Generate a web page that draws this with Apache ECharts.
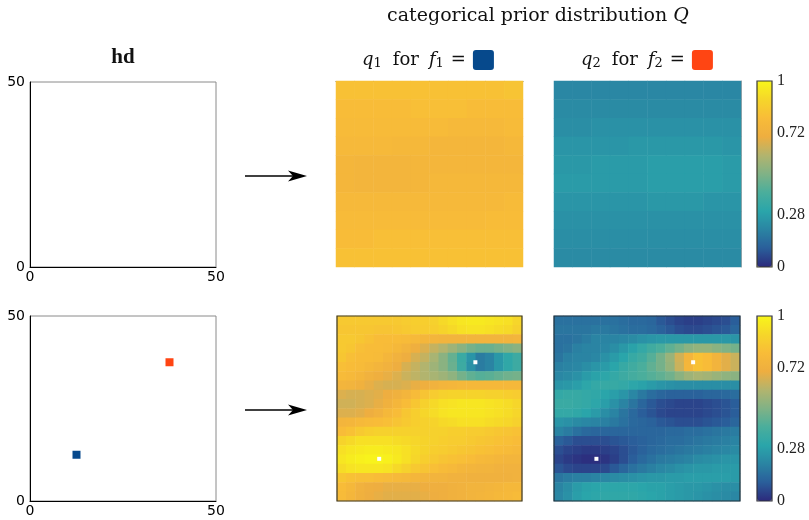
<!DOCTYPE html>
<html>
<head>
<meta charset="utf-8">
<script src="https://cdn.jsdelivr.net/npm/echarts@6/dist/echarts.min.js"></script>
<style>
  html, body { margin: 0; padding: 0; background: #fff; }
  #chart { width: 809px; height: 520px; }
</style>
</head>
<body>
<div id="chart"></div>
<script>
// ---- data ---------------------------------------------------------------
// Hard-decision map hd: one labelled site per category (grid units 0..50)
const hdAxisTicks = [0, 50];
const hdSiteF1 = [[12.5, 12.5]];
const hdSiteF2 = [[37.5, 37.5]];
// Site positions shown as white markers on the prior maps
const priorSites = [[11.4, 11.4], [37.4, 37.5]];
// Colour bar tick labels
const colorbarTicks = [0, 0.28, 0.72, 1];

// Prior probabilities in percent, rows listed from top (y = 50) to bottom (y = 0)
// Empty map (no sites): nearly flat prior
const q1Empty = [
  [82, 82, 82, 82, 82, 82, 82, 82, 82, 83],
  [80, 80, 80, 80, 81, 81, 81, 80, 80, 80],
  [79, 79, 79, 79, 79, 79, 78, 78, 78, 79],
  [78, 78, 78, 77, 77, 76, 76, 76, 76, 77],
  [76, 75, 75, 75, 76, 76, 76, 76, 76, 76],
  [76, 75, 75, 75, 76, 77, 77, 77, 77, 77],
  [78, 78, 78, 78, 78, 78, 78, 78, 78, 79],
  [79, 79, 79, 79, 79, 79, 79, 79, 80, 80],
  [80, 80, 81, 81, 81, 81, 81, 81, 81, 81],
  [82, 82, 82, 82, 82, 82, 82, 82, 82, 82]
];
const q2Empty = [
  [21, 21, 21, 21, 21, 21, 21, 21, 21, 21],
  [22, 22, 22, 22, 22, 22, 22, 22, 22, 22],
  [23, 23, 24, 24, 24, 24, 24, 24, 24, 24],
  [25, 25, 25, 25, 26, 26, 26, 26, 26, 25],
  [26, 26, 27, 27, 27, 28, 28, 28, 28, 27],
  [27, 27, 27, 27, 27, 28, 28, 28, 28, 27],
  [25, 25, 25, 25, 25, 26, 26, 26, 25, 25],
  [24, 24, 24, 24, 24, 24, 24, 24, 24, 24],
  [23, 23, 23, 23, 23, 23, 23, 23, 23, 23],
  [22, 22, 22, 22, 22, 22, 22, 22, 22, 22]
];
// Map with two sites
const q1Sites = [
  [85, 85, 85, 85, 85, 85, 85, 86, 87, 87, 88, 91, 93, 95, 96, 96, 95, 94, 93, 90],
  [84, 84, 84, 84, 83, 83, 84, 85, 86, 86, 87, 89, 91, 93, 94, 94, 93, 92, 91, 88],
  [85, 85, 84, 82, 80, 80, 80, 79, 78, 76, 75, 74, 74, 74, 74, 74, 74, 74, 74, 75],
  [85, 84, 81, 80, 80, 79, 77, 74, 71, 67, 63, 60, 56, 52, 48, 46, 46, 48, 50, 52],
  [84, 81, 80, 80, 79, 76, 73, 70, 66, 63, 58, 52, 45, 35, 25, 18, 20, 26, 32, 36],
  [81, 80, 79, 77, 75, 73, 70, 66, 63, 60, 56, 52, 46, 36, 24, 18, 20, 26, 32, 36],
  [79, 78, 76, 73, 71, 69, 67, 64, 62, 60, 58, 56, 53, 48, 44, 42, 43, 45, 47, 48],
  [75, 74, 72, 69, 67, 66, 66, 67, 69, 71, 73, 75, 76, 77, 77, 77, 77, 77, 77, 77],
  [67, 66, 66, 67, 68, 70, 72, 75, 79, 83, 86, 88, 89, 89, 89, 89, 88, 88, 87, 86],
  [65, 65, 66, 67, 69, 72, 76, 80, 84, 88, 91, 93, 94, 95, 95, 95, 94, 93, 92, 90],
  [67, 67, 68, 70, 73, 77, 80, 84, 87, 90, 92, 94, 95, 95, 95, 95, 94, 93, 92, 90],
  [75, 76, 78, 79, 80, 81, 83, 85, 87, 88, 89, 91, 92, 93, 93, 93, 92, 91, 90, 88],
  [80, 82, 85, 87, 88, 88, 88, 88, 88, 88, 88, 88, 87, 87, 86, 86, 85, 84, 83, 82],
  [89, 91, 93, 93, 93, 93, 92, 91, 90, 89, 88, 87, 86, 86, 85, 84, 83, 82, 81, 80],
  [93, 95, 96, 97, 97, 96, 95, 93, 91, 89, 87, 86, 85, 84, 83, 82, 81, 80, 79, 78],
  [95, 97, 98, 99, 99, 98, 96, 93, 90, 87, 85, 83, 82, 81, 80, 78, 77, 76, 75, 75],
  [92, 94, 95, 95, 95, 94, 91, 88, 85, 83, 81, 79, 78, 76, 75, 74, 74, 73, 73, 73],
  [84, 82, 81, 81, 80, 79, 78, 77, 76, 75, 74, 74, 73, 73, 72, 72, 72, 72, 72, 73],
  [80, 77, 73, 71, 70, 69, 69, 69, 69, 70, 71, 71, 72, 73, 74, 74, 75, 76, 77, 77],
  [79, 76, 72, 70, 69, 68, 68, 68, 68, 69, 70, 71, 72, 73, 74, 75, 76, 77, 78, 79]
];
const q2Sites = [
  [15, 15, 15, 15, 15, 15, 15, 14, 13, 13, 12, 9, 7, 5, 4, 4, 5, 6, 7, 10],
  [16, 16, 16, 16, 17, 17, 16, 15, 14, 14, 13, 11, 9, 7, 6, 6, 7, 8, 9, 12],
  [15, 15, 16, 18, 20, 20, 20, 21, 22, 24, 25, 26, 26, 26, 26, 26, 26, 26, 26, 25],
  [15, 16, 19, 20, 20, 21, 23, 26, 29, 33, 37, 40, 44, 48, 52, 54, 54, 52, 50, 48],
  [16, 19, 20, 20, 21, 24, 27, 30, 34, 37, 42, 48, 55, 65, 75, 82, 80, 74, 68, 64],
  [19, 20, 21, 23, 25, 27, 30, 34, 37, 40, 44, 48, 54, 64, 76, 82, 80, 74, 68, 64],
  [21, 22, 24, 27, 29, 31, 33, 36, 38, 40, 42, 44, 47, 52, 56, 58, 57, 55, 53, 52],
  [25, 26, 28, 31, 33, 34, 34, 33, 31, 29, 27, 25, 24, 23, 23, 23, 23, 23, 23, 23],
  [33, 34, 34, 33, 32, 30, 28, 25, 21, 17, 14, 12, 11, 11, 11, 11, 12, 12, 13, 14],
  [35, 35, 34, 33, 31, 28, 24, 20, 16, 12, 9, 7, 6, 5, 5, 5, 6, 7, 8, 10],
  [33, 33, 32, 30, 27, 23, 20, 16, 13, 10, 8, 6, 5, 5, 5, 5, 6, 7, 8, 10],
  [25, 24, 22, 21, 20, 19, 17, 15, 13, 12, 11, 9, 8, 7, 7, 7, 8, 9, 10, 12],
  [20, 18, 15, 13, 12, 12, 12, 12, 12, 12, 12, 12, 13, 13, 14, 14, 15, 16, 17, 18],
  [11, 9, 7, 7, 7, 7, 8, 9, 10, 11, 12, 13, 14, 14, 15, 16, 17, 18, 19, 20],
  [7, 5, 4, 3, 3, 4, 5, 7, 9, 11, 13, 14, 15, 16, 17, 18, 19, 20, 21, 22],
  [5, 3, 2, 1, 1, 2, 4, 7, 10, 13, 15, 17, 18, 19, 20, 22, 23, 24, 25, 25],
  [8, 6, 5, 5, 5, 6, 9, 12, 15, 17, 19, 21, 22, 24, 25, 26, 26, 27, 27, 27],
  [16, 18, 19, 19, 20, 21, 22, 23, 24, 25, 26, 26, 27, 27, 28, 28, 28, 28, 28, 27],
  [20, 23, 27, 29, 30, 31, 31, 31, 31, 30, 29, 29, 28, 27, 26, 26, 25, 24, 23, 23],
  [21, 24, 28, 30, 31, 32, 32, 32, 32, 31, 30, 29, 28, 27, 26, 25, 24, 23, 22, 21]
];

// ---- styling ------------------------------------------------------------
const SERIF = '"DejaVu Serif", "Liberation Serif", serif';
const NUM_SERIF = '"Liberation Serif", "DejaVu Serif", serif';
const SANS = '"DejaVu Sans", sans-serif';
const COLOR_F1 = '#06498c';
const COLOR_F2 = '#ff4513';
const PALETTE = ['#2c2a7c', '#2a5e9a', '#2a84a3', '#2aa5aa', '#4aae9c',
                 '#80b286', '#b2b46e', '#eeae40', '#f8bc38', '#f6d62a', '#f8f61a'];

// [column, row-from-bottom, probability] triples for a heatmap
function cells(grid) {
  const out = [];
  const n = grid.length;
  grid.forEach((row, r) => row.forEach((v, c) => out.push([c, n - 1 - r, v / 100])));
  return out;
}
const indices = n => Array.from({ length: n }, (_, i) => i);

function hdAxis(gridIndex, dim) {
  return {
    gridIndex, type: 'value', min: hdAxisTicks[0], max: hdAxisTicks[hdAxisTicks.length - 1],
    interval: hdAxisTicks[1] - hdAxisTicks[0],
    axisLine: { show: true, onZero: false, lineStyle: { color: '#000', width: 1 } },
    axisTick: { show: false }, splitLine: { show: false },
    axisLabel: { fontFamily: SANS, fontSize: 14, color: '#000', margin: dim === 'x' ? 3 : 5 }
  };
}
function cellAxis(gridIndex, n, edge) {
  const axis = { gridIndex, type: 'category', data: indices(n), show: false };
  if (edge) {
    // only a thin frame line on one side of the map
    Object.assign(axis, {
      show: true, position: edge.position,
      axisLine: { show: true, lineStyle: { color: edge.color, width: 1 } },
      axisTick: { show: false }, axisLabel: { show: false }, splitLine: { show: false }
    });
  }
  return axis;
}
function hiddenValueAxis(gridIndex, max) {
  return { gridIndex, type: 'value', min: 0, max, show: false };
}
function colorbarAxis(gridIndex) {
  return {
    gridIndex, type: 'value', min: 0, max: 1, position: 'right', z: 20,
    axisLine: { show: false }, splitLine: { show: false },
    axisTick: { show: false },
    axisLabel: { customValues: colorbarTicks, formatter: v => String(v),
                 fontFamily: NUM_SERIF, fontSize: 16, color: '#222', margin: 5 }
  };
}

const grids = [
  { left: 30, top: 82, width: 186, height: 185, show: true, borderColor: '#8a8a8a', borderWidth: 1 },
  { left: 30, top: 316, width: 186, height: 185, show: true, borderColor: '#8a8a8a', borderWidth: 1 },
  { left: 336, top: 81, width: 187, height: 186 },
  { left: 554, top: 81, width: 187, height: 186 },
  { left: 337, top: 316, width: 185, height: 185, show: true, borderColor: '#3a382a', borderWidth: 1.2, z: 10 },
  { left: 554, top: 316, width: 186, height: 185, show: true, borderColor: '#22303a', borderWidth: 1.2, z: 10 },
  { left: 757, top: 81, width: 15, height: 186, show: true, borderColor: '#3a3a2a', borderWidth: 1.2, z: 10 },
  { left: 757, top: 316, width: 15, height: 185, show: true, borderColor: '#2e2e3a', borderWidth: 1.2, z: 10 }
];

const xAxes = [
  hdAxis(0, 'x'), hdAxis(1, 'x'),
  cellAxis(2, q1Empty[0].length, { position: 'top', color: '#555' }),
  cellAxis(3, q2Empty[0].length),
  cellAxis(4, q1Sites[0].length), hiddenValueAxis(4, 50),
  cellAxis(5, q2Sites[0].length), hiddenValueAxis(5, 50),
  hiddenValueAxis(6, 1), hiddenValueAxis(7, 1)
];
const yAxes = [
  hdAxis(0, 'y'), hdAxis(1, 'y'),
  cellAxis(2, q1Empty.length),
  cellAxis(3, q2Empty.length, { position: 'right', color: '#aaa' }),
  cellAxis(4, q1Sites.length), hiddenValueAxis(4, 50),
  cellAxis(5, q2Sites.length), hiddenValueAxis(5, 50),
  colorbarAxis(6), colorbarAxis(7)
];

function heat(grid, axis) {
  return { type: 'heatmap', xAxisIndex: axis, yAxisIndex: axis, data: cells(grid),
           progressive: 0, itemStyle: { borderWidth: 0 }, emphasis: { disabled: true } };
}
function squares(points, axis, color, size) {
  return { type: 'scatter', xAxisIndex: axis, yAxisIndex: axis, data: points,
           symbol: 'rect', symbolSize: size, itemStyle: { color, opacity: 1 }, z: 5,
           emphasis: { disabled: true } };
}

const series = [
  heat(q1Empty, 2), heat(q2Empty, 3), heat(q1Sites, 4), heat(q2Sites, 6),
  squares(priorSites, 5, '#ffffff', 4), squares(priorSites, 7, '#ffffff', 4),
  squares(hdSiteF1, 1, COLOR_F1, 8), squares(hdSiteF2, 1, COLOR_F2, 8)
];

function colorbar(seriesIndex, top, height) {
  return { type: 'continuous', min: 0, max: 1, seriesIndex, orient: 'vertical',
           left: 757, top, itemWidth: 15, itemHeight: height, padding: 0,
           calculable: false, hoverLink: false, inRange: { color: PALETTE } };
}

function arrow(y) {
  return [
    { type: 'line', shape: { x1: 245, y1: y, x2: 296, y2: y },
      style: { stroke: '#000', lineWidth: 1.4 } },
    { type: 'polygon', shape: { points: [[307, y], [288, y - 5.5], [293, y], [288, y + 5.5]] },
      style: { fill: '#000' } }
  ];
}

const mathRich = {
  i: { fontFamily: SERIF, fontSize: 18, fontStyle: 'italic', fill: '#111' },
  t: { fontFamily: SERIF, fontSize: 18, fill: '#111' },
  w: { fontFamily: SERIF, fontSize: 18, fill: '#111', padding: [0, 10, 0, 11] },
  e: { fontFamily: SERIF, fontSize: 18, fill: '#111', padding: [0, 7, 0, 7] },
  s: { fontFamily: SERIF, fontSize: 13, fill: '#111', padding: [8, 0, 0, 0] },
  b1: { backgroundColor: COLOR_F1, width: 21, height: 20, borderRadius: 3 },
  b2: { backgroundColor: COLOR_F2, width: 21, height: 20, borderRadius: 3 }
};

const graphics = [
  { type: 'text', x: 538, y: 16,
    style: { text: 'categorical prior distribution {i|Q}', fontFamily: SERIF, fontSize: 19,
             fill: '#111', align: 'center', verticalAlign: 'middle',
             rich: { i: { fontFamily: SERIF, fontSize: 19, fontStyle: 'italic', fill: '#111' } } } },
  { type: 'text', x: 123, y: 58,
    style: { text: 'hd', fontFamily: NUM_SERIF, fontSize: 21, fontWeight: 'bold', fill: '#111',
             align: 'center', verticalAlign: 'middle' } },
  { type: 'text', x: 362, y: 60,
    style: { text: '{i|q}{s|1}{w|for}{i|f}{s|1}{e|=}{b1|}', align: 'left',
             verticalAlign: 'middle', rich: mathRich } },
  { type: 'text', x: 581, y: 60,
    style: { text: '{i|q}{s|2}{w|for}{i|f}{s|2}{e|=}{b2|}', align: 'left',
             verticalAlign: 'middle', rich: mathRich } },
  ...arrow(176), ...arrow(410)
];

const chart = echarts.init(document.getElementById('chart'), null, { renderer: 'canvas' });
chart.setOption({
  animation: false,
  backgroundColor: '#fff',
  grid: grids,
  xAxis: xAxes,
  yAxis: yAxes,
  visualMap: [colorbar([0, 1], 81, 186), colorbar([2, 3], 316, 185)],
  series,
  graphic: graphics
});
</script>
</body>
</html>
